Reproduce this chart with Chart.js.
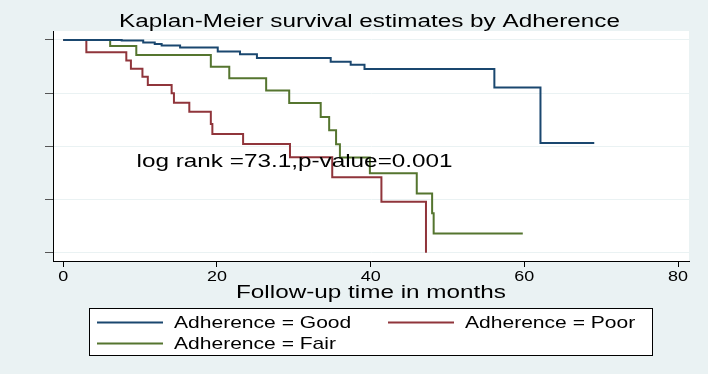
<!DOCTYPE html>
<html>
<head>
<meta charset="utf-8">
<script src="https://cdn.jsdelivr.net/npm/chart.js@4.4.1/dist/chart.umd.min.js"></script>
<style>
  html, body { margin: 0; padding: 0; background: #eaf2f3; }
  canvas { display: block; }
</style>
</head>
<body>
<canvas id="kmChart" width="708" height="374"></canvas>
<script>
// KM estimates: time (months) and S(t) right after each step
const goodTime = [0, 7.6, 10.4, 11.9, 12.8, 15.2, 20.1, 23.0, 25.2, 34.8, 37.4, 39.2, 56.1, 62.1, 69.1];
const goodSurv = [1, 0.997, 0.988, 0.981, 0.974, 0.965, 0.946, 0.933, 0.915, 0.898, 0.883, 0.863, 0.777, 0.516, 0.516];

const poorTime = [0, 3.0, 8.2, 8.8, 10.3, 11.0, 14.1, 14.4, 16.4, 19.2, 19.4, 23.4, 29.5, 35.0, 41.4, 47.2];
const poorSurv = [1, 0.942, 0.903, 0.864, 0.827, 0.788, 0.749, 0.705, 0.663, 0.605, 0.558, 0.511, 0.449, 0.355, 0.24, 0];

const fairTime = [0, 6.1, 9.5, 19.2, 21.6, 26.4, 29.4, 33.5, 34.6, 35.5, 36.0, 39.9, 46.0, 48.0, 48.2, 59.8];
const fairSurv = [1, 0.972, 0.929, 0.874, 0.82, 0.762, 0.704, 0.638, 0.575, 0.51, 0.448, 0.373, 0.278, 0.185, 0.09, 0.09];

const seriesLabels = ["Adherence = Good", "Adherence = Poor", "Adherence = Fair"];
const xTicks = [0, 20, 40, 60, 80];
const yTicks = [0, 0.25, 0.5, 0.75, 1];

const NAVY = "#1a476f";
const MAROON = "#90353b";
const GREEN = "#55752f";
const FONT = '"Liberation Sans", Arial, sans-serif';
const SX = 1.3; // the source image is stretched sideways, text too

function steps(times, surv) {
  return times.map((t, i) => ({ x: t, y: surv[i] }));
}

function wideText(ctx, text, x, y, size, align) {
  ctx.save();
  ctx.translate(x, y);
  ctx.scale(SX, 1);
  ctx.font = size + "px " + FONT;
  ctx.textAlign = align;
  ctx.textBaseline = "alphabetic";
  ctx.fillStyle = "#000";
  ctx.fillText(text, 0, 0);
  ctx.restore();
}

const plotBg = {
  id: "plotBg",
  beforeDraw(chart) {
    const { ctx, chartArea: a } = chart;
    ctx.save();
    ctx.fillStyle = "#fff";
    ctx.fillRect(a.left, a.top, a.right - a.left, a.bottom - a.top);
    ctx.restore();
  },
};

const textAndLegend = {
  id: "textAndLegend",
  afterDraw(chart) {
    const { ctx, chartArea: a, scales } = chart;
    const xs = scales.x;
    const ys = scales.y;

    wideText(ctx, "Kaplan-Meier survival estimates by Adherence", 369.5, 27, 18.7, "center");
    xTicks.forEach((v) => wideText(ctx, String(v), xs.getPixelForValue(v), 281, 13.8, "center"));
    wideText(ctx, "Follow-up time in months", (a.left + a.right) / 2, 298, 18.7, "center");
    wideText(ctx, "log rank =73.1,p-value=0.001", xs.getPixelForValue(30.1), ys.getPixelForValue(0.403), 18.7, "center");

    // legend box, two columns
    ctx.save();
    ctx.fillStyle = "#fff";
    ctx.fillRect(89, 308, 564, 48);
    ctx.strokeStyle = "#000";
    ctx.lineWidth = 1;
    ctx.strokeRect(89.5, 308.5, 563, 47);
    ctx.restore();

    const slots = [
      { lx: 97, ly: 322.5, tx: 174, ty: 328 },
      { lx: 388, ly: 322.5, tx: 465, ty: 328 },
      { lx: 97, ly: 343.5, tx: 174, ty: 349 },
    ];
    chart.data.datasets.forEach((ds, i) => {
      const s = slots[i];
      ctx.save();
      ctx.strokeStyle = ds.borderColor;
      ctx.lineWidth = 2;
      ctx.beginPath();
      ctx.moveTo(s.lx, s.ly);
      ctx.lineTo(s.lx + 66, s.ly);
      ctx.stroke();
      ctx.restore();
      wideText(ctx, ds.label, s.tx, s.ty, 16.2, "left");
    });
  },
};

new Chart(document.getElementById("kmChart"), {
  type: "line",
  data: {
    datasets: [
      { label: seriesLabels[0], data: steps(goodTime, goodSurv), borderColor: NAVY },
      { label: seriesLabels[1], data: steps(poorTime, poorSurv), borderColor: MAROON },
      { label: seriesLabels[2], data: steps(fairTime, fairSurv), borderColor: GREEN },
    ].map((d) => Object.assign(d, { stepped: "before", borderWidth: 2, pointRadius: 0, fill: false })),
  },
  options: {
    responsive: false,
    animation: false,
    layout: { padding: { top: 31, right: 19, bottom: 0, left: 0 } },
    plugins: {
      legend: { display: false },
      title: { display: false },
      tooltip: { enabled: false },
    },
    scales: {
      x: {
        type: "linear",
        min: -1.34,
        max: 81.43,
        afterBuildTicks: (s) => { s.ticks = xTicks.map((v) => ({ value: v })); },
        afterFit: (s) => { s.height = 113; },
        ticks: { display: false },
        grid: { drawOnChartArea: false, drawTicks: true, tickLength: 6, tickColor: "#000" },
        border: { color: "#000", width: 1 },
      },
      y: {
        type: "linear",
        min: -0.039,
        max: 1.042,
        afterBuildTicks: (s) => { s.ticks = yTicks.map((v) => ({ value: v })); },
        afterFit: (s) => { s.width = 53; },
        ticks: { display: false },
        grid: { color: "#eaf2f3", lineWidth: 1, drawTicks: true, tickLength: 8, tickColor: "#555" },
        border: { color: "#000", width: 1 },
      },
    },
  },
  plugins: [plotBg, textAndLegend],
});
</script>
</body>
</html>
